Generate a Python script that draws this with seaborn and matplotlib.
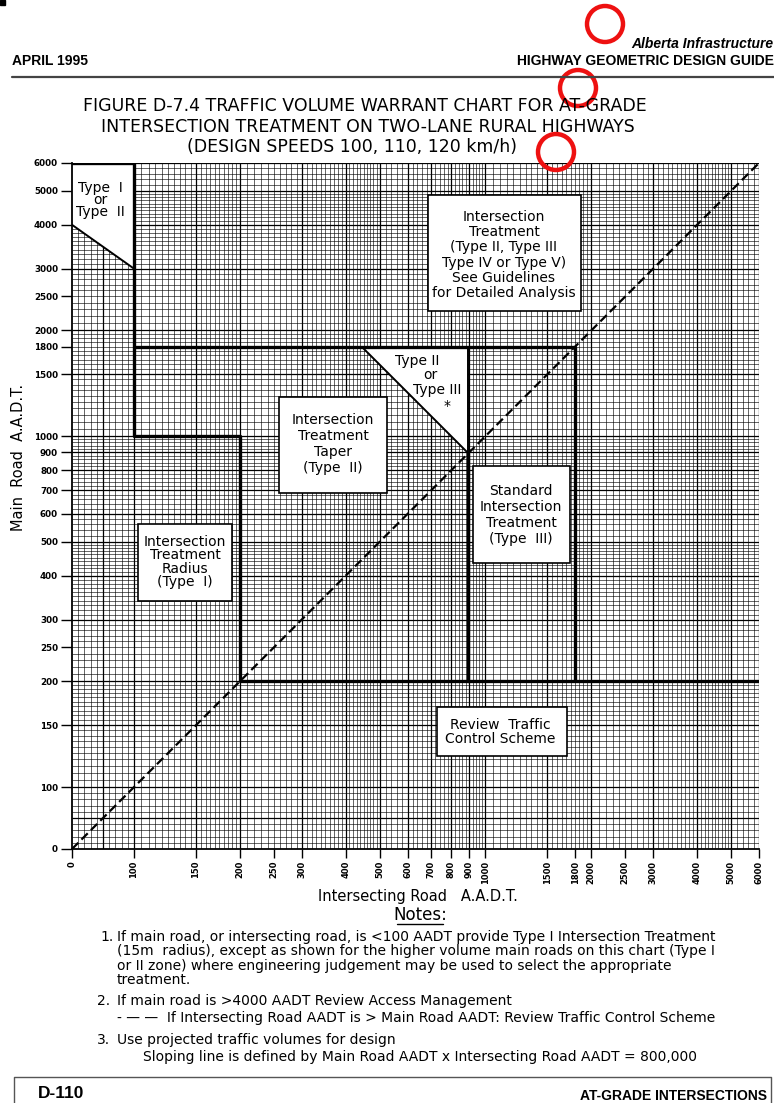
import numpy as np
import pandas as pd
import matplotlib
matplotlib.use("Agg")
import matplotlib.pyplot as plt
import matplotlib.patches as mpatches
import seaborn as sns

# ---------------------------------------------------------------- data
# labelled AADT values on both axes
tick_values = [0, 100, 150, 200, 250, 300, 400, 500, 600, 700, 800, 900,
               1000, 1500, 1800, 2000, 2500, 3000, 4000, 5000, 6000]
tick_labels = [str(v) for v in tick_values]
axis_max = 6000

# sloping warrant line: main AADT x intersecting AADT = constant
aadt_product = 800000
apex = np.sqrt(aadt_product)          # point where the sloping line meets y = x

# "Type I or Type II" zone (intersecting AADT, main AADT)
zone12_x = [0, 100, 100, 0]
zone12_y = [6000, 6000, 3000, 4000]
zone12_edge_x = [0, 100]
zone12_edge_y = [4000, 3000]

# "Type II or Type III" zone bounded by the sloping line
zone23_x = [aadt_product / 1800, apex, apex]
zone23_y = [1800, 1800, apex]

# warrant boundaries, one polyline per segment id
bound_seg = ["a"] * 5 + ["b"] * 3 + ["c"] * 2
bound_x = [100, 100, 200, 200, 6000, 100, 1800, 1800, apex, apex]
bound_y = [6000, 1000, 1000, 200, 200, 1800, 1800, 200, apex, 200]

# intersecting road AADT = main road AADT
diag_x = [0, 6000]
diag_y = [0, 6000]

# ---------------------------------------------------------------- scale
# log axis above 100 AADT, linear stretch from 0 to 100
LOW = 2 - 62 / 351.5


def fwd(v):
    v = np.asarray(v, dtype=float)
    with np.errstate(divide="ignore", invalid="ignore"):
        lg = np.log10(np.where(v > 0, v, 1.0))
    return np.where(v >= 100, lg, LOW + v / 100 * (2 - LOW))


def inv(u):
    u = np.asarray(u, dtype=float)
    with np.errstate(over="ignore"):
        ex = np.power(10.0, np.clip(u, -10, 10))
    return np.where(u >= 2, ex, (u - LOW) / (2 - LOW) * 100)


# graph-paper rulings
fine_rule = np.concatenate([
    np.arange(10, 100, 10), np.arange(105, 200, 5), np.arange(210, 500, 10),
    np.arange(520, 1000, 20), np.arange(1050, 2000, 50),
    np.arange(2100, 5000, 100), np.arange(5200, 6001, 200)])
bold_rule = np.concatenate([[50, 150, 1500], np.arange(100, 1000, 100),
                            np.arange(1000, 6001, 1000)])

# ---------------------------------------------------------------- figure
sns.set_theme(style="ticks")
plt.rcParams["font.family"] = ["DejaVu Sans"]
plt.rcParams["axes.linewidth"] = 1.3
for key in ("text.color", "axes.labelcolor", "xtick.color", "ytick.color",
            "axes.edgecolor"):
    plt.rcParams[key] = "black"

W, H = 774, 1103
fig = plt.figure(figsize=(W / 100, H / 100), dpi=100)
fig.patch.set_facecolor("white")

L, R, T, B = 72, 759, 163, 849
ax = fig.add_axes([L / W, (H - B) / H, (R - L) / W, (B - T) / H])
ax.set_facecolor("white")

df_bound = pd.DataFrame({"seg": bound_seg, "x": bound_x, "y": bound_y})
sns.lineplot(data=df_bound, x="x", y="y", units="seg", estimator=None,
             sort=False, color="black", linewidth=2.4, ax=ax, legend=False,
             zorder=4)
sns.lineplot(x=diag_x, y=diag_y, color="black", linewidth=1.6,
             linestyle="--", ax=ax, legend=False, zorder=4)
ax.lines[-1].set_dashes([4, 2])

ax.set_xscale("function", functions=(fwd, inv))
ax.set_yscale("function", functions=(fwd, inv))
ax.set_xlim(0, axis_max)
ax.set_ylim(0, axis_max)

ax.vlines(fine_rule, 0, axis_max, color="black", lw=0.5, alpha=0.85, zorder=1)
ax.hlines(fine_rule, 0, axis_max, color="black", lw=0.5, alpha=0.85, zorder=1)
ax.vlines(bold_rule, 0, axis_max, color="black", lw=0.9, zorder=1)
ax.hlines(bold_rule, 0, axis_max, color="black", lw=0.9, zorder=1)

# white zones
ax.fill(zone12_x, zone12_y, facecolor="white", edgecolor="none", zorder=3)
ax.plot(zone12_edge_x, zone12_edge_y, color="black", lw=1.4, zorder=4)
ax.plot([0, 100], [6000, 6000], color="black", lw=2.4, zorder=4)
ax.fill(zone23_x, zone23_y, facecolor="white", edgecolor="black", lw=1.4,
        zorder=3)

ax.set_xticks(tick_values)
ax.set_xticklabels(tick_labels, rotation=90, fontsize=6, fontweight="bold")
ax.set_yticks(tick_values)
ax.set_yticklabels(tick_labels, fontsize=6.3, fontweight="bold")
ax.minorticks_off()
ax.tick_params(axis="x", length=6.5, width=1, pad=2, color="black")
ax.tick_params(axis="y", length=8, width=1, pad=2, color="black")
for s in ("top", "right"):
    ax.spines[s].set_visible(False)
for s in ("left", "bottom"):
    ax.spines[s].set_color("black")
    ax.spines[s].set_zorder(5)

ax.set_xlabel("Intersecting Road   A.A.D.T.", fontsize=10.5)
ax.set_ylabel("Main  Road  A.A.D.T.", fontsize=10.5)
ax.xaxis.set_label_coords(0.504, -0.058)
ax.yaxis.set_label_coords(-0.067, 0.571)


def ax_frac(px, py):
    return (px - L) / (R - L), (B - py) / (B - T)


def label_box(x0, y0, x1, y1):
    fx0, fy1 = ax_frac(x0, y1)
    fx1, fy0 = ax_frac(x1, y0)
    ax.add_patch(mpatches.Rectangle((fx0, fy1), fx1 - fx0, fy0 - fy1,
                                    transform=ax.transAxes, facecolor="white",
                                    edgecolor="black", lw=1.2, zorder=5))


def zone_text(px, py, s, ls=1.0):
    fx, fy = ax_frac(px, py)
    ax.text(fx, fy, s, transform=ax.transAxes, ha="center", va="center",
            fontsize=10, linespacing=ls, zorder=6, multialignment="center")


label_box(428, 195, 581, 311)
label_box(279, 397, 387, 493)
label_box(473, 466, 570, 563)
label_box(138, 524, 232, 601)
label_box(437, 707, 567, 756)

zone_text(100, 200, "Type  I\nor\nType  II", 0.86)
zone_text(504, 255, "Intersection\nTreatment\n(Type II, Type III\n"
          "Type IV or Type V)\nSee Guidelines\nfor Detailed Analysis", 1.1)
zone_text(417, 361, "Type II")
zone_text(430, 375, "or")
zone_text(437, 390, "Type III")
zone_text(447, 406, "*")
zone_text(333, 444, "Intersection\nTreatment\nTaper\n(Type  II)", 1.17)
zone_text(521, 515, "Standard\nIntersection\nTreatment\n(Type  III)", 1.17)
zone_text(185, 562, "Intersection\nTreatment\nRadius\n(Type  I)", 0.93)
zone_text(500, 732, "Review  Traffic\nControl Scheme", 1.05)

# ---------------------------------------------------------------- page
page = fig.add_axes([0, 0, 1, 1], zorder=10)
page.set_xlim(0, W)
page.set_ylim(H, 0)
page.axis("off")

hdr = ["Liberation Sans", "DejaVu Sans"]
page.add_patch(mpatches.Rectangle((0, 0), 5, 5, color="black"))
page.text(773, 44, "Alberta Infrastructure", ha="right", va="center",
          fontsize=10, fontweight="bold", style="italic", family=hdr)
page.text(774, 61, "HIGHWAY GEOMETRIC DESIGN GUIDE", ha="right", va="center",
          fontsize=10, fontweight="bold", family=hdr)
page.text(12, 61, "APRIL 1995", ha="left", va="center", fontsize=10,
          fontweight="bold", family=hdr)
page.plot([12, 774], [77, 77], color="#444444", lw=1.6)

page.text(365, 106, "FIGURE D-7.4 TRAFFIC VOLUME WARRANT CHART FOR AT-GRADE",
          ha="center", va="center", fontsize=12.5)
page.text(368, 127, "INTERSECTION TREATMENT ON TWO-LANE RURAL HIGHWAYS",
          ha="center", va="center", fontsize=12.5)
page.text(352, 147, "(DESIGN SPEEDS 100, 110, 120 km/h)",
          ha="center", va="center", fontsize=12.5)

page.text(420, 915, "Notes:", ha="center", va="center", fontsize=12)
page.plot([397, 443], [924, 924], color="black", lw=1)

nf = 10
page.text(100, 937, "1.", ha="left", va="center", fontsize=nf)
note1 = ["If main road, or intersecting road, is <100 AADT provide Type I Intersection Treatment",
         "(15m  radius), except as shown for the higher volume main roads on this chart (Type I",
         "or II zone) where engineering judgement may be used to select the appropriate",
         "treatment."]
for k, ln in enumerate(note1):
    page.text(117, 937 + 14.5 * k, ln, ha="left", va="center", fontsize=nf)
page.text(97, 1001, "2.", ha="left", va="center", fontsize=nf)
page.text(117, 1001, "If main road is >4000 AADT Review Access Management",
          ha="left", va="center", fontsize=nf)
page.text(117, 1018, "- \u2014 \u2014  If Intersecting Road AADT is > Main Road AADT: Review Traffic Control Scheme",
          ha="left", va="center", fontsize=nf)
page.text(97, 1040, "3.", ha="left", va="center", fontsize=nf)
page.text(117, 1040, "Use projected traffic volumes for design",
          ha="left", va="center", fontsize=nf)
page.text(143, 1057, "Sloping line is defined by Main Road AADT x Intersecting Road AADT = 800,000",
          ha="left", va="center", fontsize=nf)

page.plot([14, 14, 771, 771], [1103, 1077, 1077, 1103], color="#555555", lw=1)
page.text(38, 1094, "D-110", ha="left", va="center", fontsize=12.5,
          fontweight="bold", family=hdr)
page.text(767, 1096, "AT-GRADE INTERSECTIONS", ha="right", va="center",
          fontsize=10, fontweight="bold", family=hdr)

# red ring marks
for cx, cy in [(605, 24), (578, 88), (556, 152)]:
    page.add_patch(mpatches.Circle((cx, cy), 18, facecolor="none",
                                   edgecolor="#ee1111", lw=3.2))

fig.savefig("out.png", dpi=100)
